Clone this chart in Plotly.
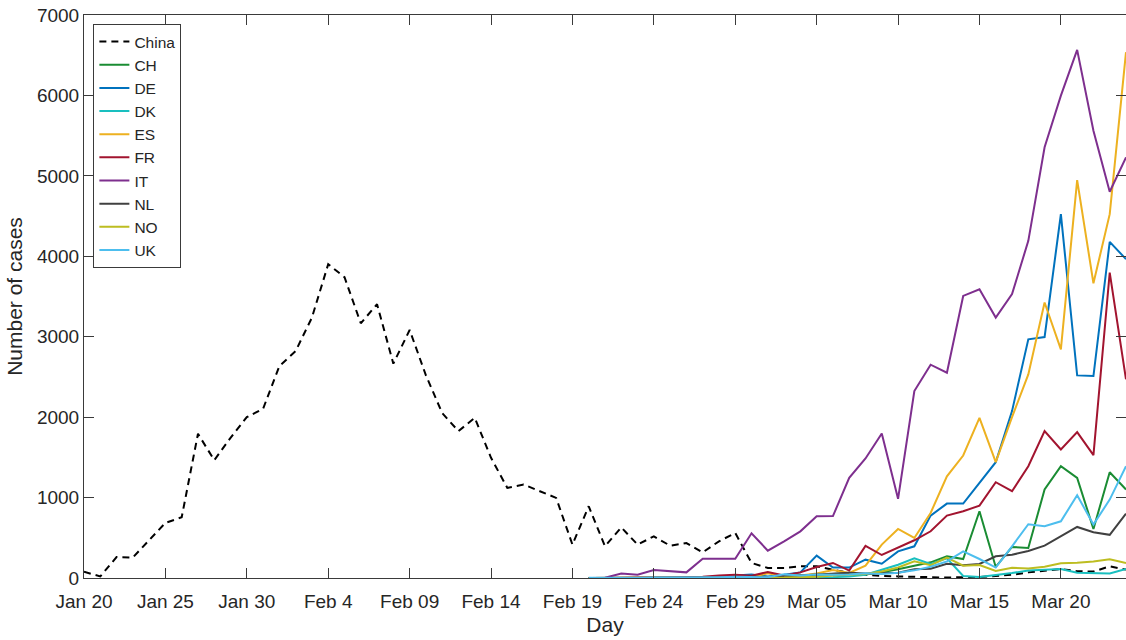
import pandas as pd
import plotly.graph_objects as go

# Daily new cases, China from Jan 20, European countries from Feb 20 (2020)
china_start = "2020-01-20"
europe_start = "2020-02-20"

china = [77, 20, 260, 255, 470, 685, 755, 1793, 1465, 1743,
         2000, 2105, 2635, 2822, 3238, 3902, 3740, 3167, 3404, 2665,
         3084, 2520, 2050, 1826, 1992, 1494, 1120, 1162, 1079, 996,
         415, 892, 394, 630, 415, 518, 402, 435, 319, 456,
         560, 187, 125, 125, 145, 145, 103, 65, 40, 25,
         20, 15, 10, 5, 10, 12, 25, 40, 70, 95,
         112, 85, 80, 145, 104]

ch = [0, 0, 0, 0, 0, 0, 0, 0, 5, 10,
      15, 10, 30, 35, 30, 50, 60, 45, 70, 110,
      150, 195, 270, 236, 830, 137, 386, 373, 1100, 1390,
      1245, 610, 1315, 1100]
de = [0, 0, 0, 0, 0, 0, 0, 10, 10, 30,
      45, 20, 40, 70, 278, 130, 130, 228, 178, 331,
      394, 776, 925, 925, 1183, 1440, 2075, 2968, 2996, 4524,
      2519, 2511, 4180, 3964]
dk = [0, 0, 0, 0, 0, 0, 0, 0, 0, 0,
      0, 5, 5, 5, 5, 10, 20, 40, 100, 165,
      245, 175, 245, 25, 12, 35, 62, 92, 103, 113,
      65, 57, 57, 112]
es = [0, 0, 0, 0, 0, 0, 0, 0, 5, 5,
      10, 60, 20, 30, 55, 100, 62, 153, 415, 610,
      498, 809, 1265, 1523, 1992, 1440, 2000, 2532, 3425, 2843,
      4948, 3665, 4524, 6538]
fr = [0, 0, 0, 0, 0, 5, 10, 15, 30, 40,
      28, 75, 30, 70, 137, 187, 92, 400, 286, 373,
      469, 581, 776, 830, 900, 1191, 1079, 1390, 1826, 1598,
      1813, 1527, 3798, 2470]
it = [0, 3, 57, 41, 100, 87, 70, 240, 240, 240,
      556, 340, 456, 580, 767, 770, 1245, 1486, 1797, 984,
      2324, 2652, 2553, 3507, 3590, 3238, 3530, 4192, 5355, 5998,
      6567, 5562, 4802, 5230]
nl = [0, 0, 0, 0, 0, 0, 0, 5, 5, 10,
      15, 10, 20, 30, 40, 50, 65, 55, 60, 65,
      110, 115, 178, 160, 175, 270, 290, 335, 402, 522,
      635, 570, 537, 800]
no = [0, 0, 0, 0, 0, 0, 0, 0, 0, 0,
      5, 5, 5, 10, 15, 30, 40, 50, 80, 130,
      207, 160, 255, 153, 162, 87, 127, 118, 140, 182,
      190, 205, 232, 187]
uk = [2, 0, 0, 0, 5, 5, 5, 10, 10, 15,
      12, 10, 45, 30, 45, 40, 45, 60, 50, 65,
      95, 140, 207, 331, 236, 130, 394, 668, 645, 705,
      1029, 665, 975, 1390]

countries = ["CH", "DE", "DK", "ES", "FR", "IT", "NL", "NO", "UK"]
series = [ch, de, dk, es, fr, it, nl, no, uk]
colors = ["#1A8C33", "#0072BD", "#19BFBF", "#EDB120", "#A2142F",
          "#7E2F8E", "#404040", "#BDBD21", "#4DBEEE"]

tick_dates = pd.date_range("2020-01-20", "2020-03-20", freq="5D")
tick_text = ["Jan 20", "Jan 25", "Jan 30", "Feb 4", "Feb 09", "Feb 14", "Feb 19",
             "Feb 24", "Feb 29", "Mar 05", "Mar 10", "Mar 15", "Mar 20"]

china_days = pd.date_range(china_start, periods=len(china), freq="D")
europe_days = pd.date_range(europe_start, periods=len(ch), freq="D")

font = "Arial, Liberation Sans, Helvetica, sans-serif"
axis_color = "#3a3a3a"
text_color = "#262626"

fig = go.Figure()
fig.add_trace(go.Scatter(
    x=china_days, y=china, mode="lines", name="China",
    line=dict(color="black", width=2, dash="7px,5px")))
for name, vals, col in zip(countries, series, colors):
    fig.add_trace(go.Scatter(
        x=europe_days, y=vals, mode="lines", name=name,
        line=dict(color=col, width=2)))

axis_common = dict(
    showline=True, linecolor=axis_color, linewidth=1, mirror="ticks",
    ticks="inside", ticklen=10, tickcolor=axis_color, tickwidth=1,
    showgrid=False, zeroline=False,
    tickfont=dict(family=font, size=19, color=text_color),
)

fig.update_layout(
    width=1126, height=640,
    margin=dict(l=84, r=0, t=15, b=62),
    paper_bgcolor="white", plot_bgcolor="white",
    font=dict(family=font, color=text_color),
    showlegend=True,
    legend=dict(
        x=0.009, y=0.984, xanchor="left", yanchor="top",
        bgcolor="white", bordercolor=axis_color, borderwidth=1,
        font=dict(family=font, size=15.5, color=text_color),
        tracegroupgap=0, itemwidth=30,
    ),
    xaxis=dict(
        range=["2020-01-20", "2020-03-24"],
        tickvals=tick_dates, ticktext=tick_text, ticklabelstandoff=6,
        title=dict(text="Day", font=dict(family=font, size=21, color=text_color), standoff=6),
        **axis_common,
    ),
    yaxis=dict(
        range=[0, 7000], tickvals=list(range(0, 7001, 1000)),
        title=dict(text="Number of cases", font=dict(family=font, size=21, color=text_color), standoff=8),
        **axis_common,
    ),
)

fig.write_html("out.html")
